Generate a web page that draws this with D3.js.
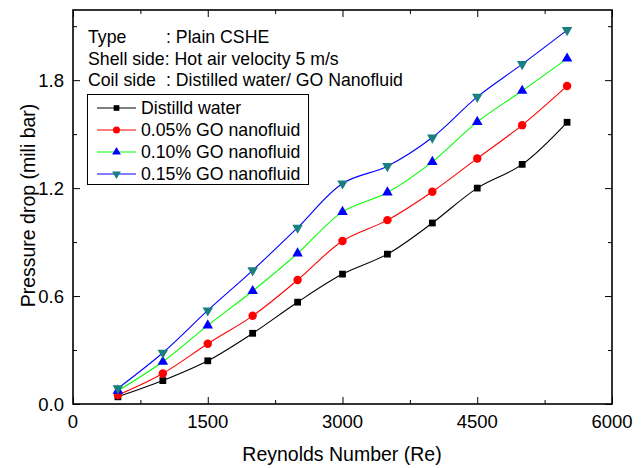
<!DOCTYPE html>
<meta charset="utf-8">
<head>
<title>Pressure drop vs Reynolds number</title>
<style>
  body { margin: 0; background: #fff; }
  text { font-family: "Liberation Sans", Arial, sans-serif; fill: #000; }
</style>
</head>
<body>
<svg width="644" height="468"></svg>
<script src="https://cdn.jsdelivr.net/npm/d3@7"></script>
<script>

// data
var reynolds = [500, 1000, 1500, 2000, 2500, 3000, 3500, 4000, 4500, 5000, 5500];
var water   = [0.04, 0.13, 0.24, 0.393, 0.566, 0.722, 0.833, 1.006, 1.20, 1.332, 1.566];
var go005   = [0.05, 0.17, 0.335, 0.49, 0.689, 0.906, 1.022, 1.18, 1.365, 1.55, 1.768];
var go010   = [0.074, 0.235, 0.437, 0.628, 0.837, 1.068, 1.176, 1.346, 1.568, 1.741, 1.92];
var go015   = [0.087, 0.285, 0.52, 0.743, 0.98, 1.226, 1.322, 1.481, 1.707, 1.889, 2.078];
var seriesNames = ["Distilld water", "0.05% GO nanofluid", "0.10% GO nanofluid", "0.15% GO nanofluid"];
var xTicks = [0, 1500, 3000, 4500, 6000];
var yTicks = [0.0, 0.6, 1.2, 1.8];
var notes = [["Type", ": Plain CSHE"], ["Shell side: Hot air velocity 5 m/s", ""], ["Coil side", ": Distilled water/ GO Nanofluid"]];

var series = [
  { name: seriesNames[0], values: water, line: "#000000", fill: "#000000", sym: d3.symbolSquare, size: 46, rot: 0 },
  { name: seriesNames[1], values: go005, line: "#ff0000", fill: "#ff0000", sym: d3.symbolCircle, size: 56, rot: 0 },
  { name: seriesNames[2], values: go010, line: "#00ff00", fill: "#0000ff", sym: d3.symbolTriangle, size: 48, rot: 0 },
  { name: seriesNames[3], values: go015, line: "#0000ff", fill: "#1a7f80", sym: d3.symbolTriangle, size: 48, rot: 180 }
];

var svg = d3.select("svg"),
    pL = 73, pR = 612, pT = 10, pB = 404;

var x = d3.scaleLinear().domain([0, 6000]).range([pL, pR]);
var y = d3.scaleLinear().domain([0, 2.19]).range([pB, pT]);

// axes, ticks pointing inward
function ticks(axis, pos, vals, len) {
  return svg.append("g").attr("transform", pos)
    .call(axis.tickValues(vals).tickSize(len).tickFormat(""))
    .call(function(g) { g.select(".domain").remove(); g.selectAll("line").attr("stroke", "#000"); });
}
var xMinor = [750, 2250, 3750, 5250], yMinor = [0.3, 0.9, 1.5, 2.1];
ticks(d3.axisTop(x), "translate(0," + pB + ")", xTicks, 7);
ticks(d3.axisTop(x), "translate(0," + pB + ")", xMinor, 4);
ticks(d3.axisBottom(x), "translate(0," + pT + ")", xTicks, 7);
ticks(d3.axisBottom(x), "translate(0," + pT + ")", xMinor, 4);
ticks(d3.axisRight(y), "translate(" + pL + ",0)", yTicks, 7);
ticks(d3.axisRight(y), "translate(" + pL + ",0)", yMinor, 4);
ticks(d3.axisLeft(y), "translate(" + pR + ",0)", yTicks, 7);
ticks(d3.axisLeft(y), "translate(" + pR + ",0)", yMinor, 4);

svg.append("rect")
  .attr("x", pL).attr("y", pT)
  .attr("width", pR - pL).attr("height", pB - pT)
  .attr("fill", "none").attr("stroke", "#000").attr("stroke-width", 1.6);

// tick labels
svg.selectAll(".xl").data(xTicks).enter().append("text")
  .attr("x", function(d) { return x(d); }).attr("y", pB + 24)
  .attr("text-anchor", "middle").style("font-size", "18.5px")
  .text(function(d) { return d; });
svg.selectAll(".yl").data(yTicks).enter().append("text")
  .attr("x", pL - 9).attr("y", function(d) { return y(d) + 6.6; })
  .attr("text-anchor", "end").style("font-size", "18.5px")
  .text(function(d) { return d.toFixed(1); });

svg.append("text").attr("x", 342).attr("y", 461)
  .attr("text-anchor", "middle").style("font-size", "19.5px")
  .text("Reynolds Number (Re)");
svg.append("text").attr("transform", "translate(35,205.5) rotate(-90)")
  .attr("text-anchor", "middle").style("font-size", "19.5px")
  .text("Pressure drop (mili bar)");

// curves + markers
var line = d3.line()
  .x(function(d, i) { return x(reynolds[i]); })
  .y(function(d) { return y(d); })
  .curve(d3.curveCatmullRom.alpha(0.5));

series.forEach(function(s) {
  svg.append("path").datum(s.values)
    .attr("d", line).attr("fill", "none")
    .attr("stroke", s.line).attr("stroke-width", 1.1);
  svg.selectAll(null).data(s.values).enter().append("path")
    .attr("d", d3.symbol().type(s.sym).size(s.size))
    .attr("transform", function(d, i) { return "translate(" + x(reynolds[i]) + "," + y(d) + ") rotate(" + s.rot + ")"; })
    .attr("fill", s.fill);
});

// notes at top left
notes.forEach(function(n, i) {
  var ty = 43 + i * 21.5;
  svg.append("text").attr("x", 88).attr("y", ty).style("font-size", "17.7px").text(n[0]);
  if (n[1]) svg.append("text").attr("x", 166).attr("y", ty).style("font-size", "17.7px").text(n[1]);
});

// legend
svg.append("rect").attr("x", 87.5).attr("y", 94.5).attr("width", 221).attr("height", 90)
  .attr("fill", "#fff").attr("stroke", "#000").attr("stroke-width", 1);
series.forEach(function(s, i) {
  var ly = 108 + i * 22;
  svg.append("line").attr("x1", 97).attr("x2", 136).attr("y1", ly).attr("y2", ly)
    .attr("stroke", s.line).attr("stroke-width", 1.1);
  svg.append("path").attr("d", d3.symbol().type(s.sym).size(s.size * 0.7))
    .attr("transform", "translate(116.5," + ly + ") rotate(" + s.rot + ")")
    .attr("fill", s.fill);
  svg.append("text").attr("x", 141).attr("y", ly + 6).style("font-size", "17.7px").text(s.name);
});
</script>
</body>
